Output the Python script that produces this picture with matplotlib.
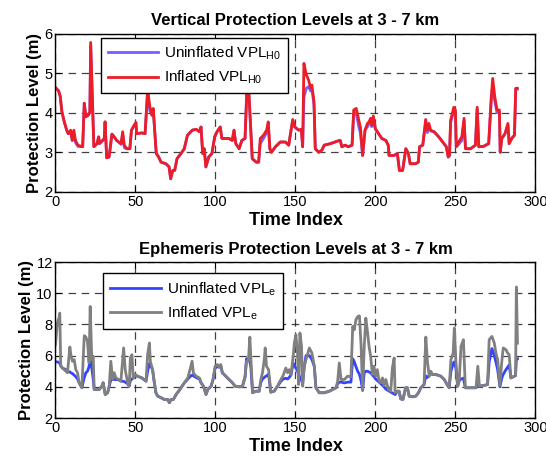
import matplotlib
matplotlib.use("Agg")
import matplotlib.pyplot as plt

plt.rcParams['font.family'] = ['Liberation Sans', 'DejaVu Sans']
plt.rcParams['mathtext.fontset'] = 'custom'
plt.rcParams['mathtext.rm'] = 'Liberation Sans'
plt.rcParams['mathtext.it'] = 'Liberation Sans'

# ---------------- Top panel data ----------------
top_x = [0, 2, 3, 4, 5.5, 7, 8, 9.5, 10.5, 11.5, 12.5, 14, 17, 18, 19, 20.5, 21.5, 22, 23, 24,
         26, 27, 27.5, 29.5, 30.5, 31, 32, 33.5, 35.3, 36.7, 38.2, 41, 42, 43, 44.5, 46.5, 47.5, 49.3, 50.3, 50.7,
         54, 56, 57.6, 59, 60.3, 61.1, 63, 64.5, 66, 69, 71, 72, 73.3, 74.5, 76, 78.5, 80.5, 82.5, 85.5, 88,
         90, 91, 92, 93, 94, 95.8, 97.8, 99.5, 101, 103, 104, 108.5, 110.5, 111.6, 112.7, 114.8, 116.5, 118.5, 119.8, 121,
         123, 125.5, 127, 128, 130, 132, 133, 134, 135, 137.5, 140.5, 143.7, 145.8, 146.9, 148.3, 149.6, 152, 153.7, 154.5, 155.3,
         156.8, 158.2, 159.5, 160.3, 161.6, 162.4, 164.5, 166.5, 168, 172, 176, 178, 179, 181, 183, 185.4, 186.4, 188, 189.6, 190.6,
         192, 193.5, 195, 196, 197, 197.7, 198.7, 200, 202, 204, 206.5, 208, 208.5, 211.6, 213.7, 215, 217, 219, 220.6, 221.7,
         225, 226.8, 227.6, 229.6, 231.4, 232.4, 233.4, 234.5, 236.6, 239.6, 242.8, 244.3, 245.5, 246.3, 247, 249, 250, 250.5, 252, 254,
         255.4, 256.3, 259.5, 262.5, 263.6, 264.6, 267.6, 270.8, 272.5, 273.3, 274.6, 276, 277.5, 278, 279, 281, 282.8, 283.6, 285.2, 286.9,
         287.7, 288.7]
top_inflated = [4.64, 4.55, 4.41, 4.03, 3.77, 3.56, 3.47, 3.56, 3.30, 3.56, 3.30, 3.18, 3.14, 4.24, 3.90, 3.94, 4.03, 5.78, 4.49, 3.14,
                3.22, 3.39, 3.22, 3.30, 3.35, 3.77, 2.86, 2.88, 3.46, 3.39, 3.30, 3.22, 3.52, 3.18, 3.09, 3.09, 3.56, 3.69, 3.75, 3.47,
                3.49, 3.47, 4.60, 4.15, 3.94, 4.11, 2.97, 2.88, 2.75, 2.71, 2.63, 2.33, 2.54, 2.54, 2.84, 2.97, 3.09, 3.43, 3.56, 3.58,
                3.52, 3.64, 2.97, 3.09, 2.63, 2.88, 2.97, 3.39, 3.52, 3.64, 3.35, 3.35, 3.30, 3.56, 3.22, 3.09, 3.30, 3.35, 4.80, 4.45,
                2.84, 2.75, 2.75, 3.35, 3.43, 3.56, 3.77, 3.09, 3.00, 3.14, 3.26, 3.26, 3.18, 3.47, 3.83, 3.64, 3.56, 3.58, 3.14, 5.25,
                4.96, 4.83, 4.62, 4.70, 4.28, 3.09, 3.00, 3.05, 3.18, 3.22, 3.28, 3.30, 3.14, 3.18, 3.14, 3.18, 4.07, 4.11, 3.81, 3.64,
                2.92, 3.56, 3.73, 3.77, 3.86, 3.69, 3.92, 3.60, 3.47, 3.35, 3.30, 3.18, 2.92, 2.92, 2.97, 2.54, 2.54, 3.09, 2.97, 2.71,
                2.71, 2.75, 3.14, 3.18, 3.83, 3.56, 3.73, 3.56, 3.52, 3.39, 3.22, 3.14, 2.88, 2.92, 3.81, 4.14, 4.07, 3.14, 3.26, 3.39,
                3.86, 3.09, 3.09, 3.18, 4.14, 3.14, 3.15, 3.22, 4.45, 4.87, 4.41, 4.07, 4.07, 3.00, 3.35, 3.47, 3.73, 3.22, 3.35, 3.43,
                4.62, 4.62]
top_uninflated = [4.64, 4.55, 4.41, 4.03, 3.77, 3.56, 3.47, 3.50, 3.30, 3.45, 3.25, 3.15, 3.14, 4.24, 3.90, 3.94, 4.00, 5.70, 4.40, 3.14,
                  3.22, 3.39, 3.22, 3.30, 3.35, 3.77, 2.86, 2.88, 3.46, 3.39, 3.30, 3.20, 3.45, 3.12, 3.09, 3.09, 3.56, 3.69, 3.75, 3.47,
                  3.49, 3.47, 4.50, 4.05, 3.94, 4.08, 2.97, 2.88, 2.75, 2.71, 2.63, 2.33, 2.54, 2.54, 2.84, 2.97, 3.09, 3.43, 3.56, 3.58,
                  3.52, 3.64, 2.97, 3.09, 2.63, 2.88, 2.97, 3.39, 3.52, 3.64, 3.35, 3.35, 3.30, 3.56, 3.22, 3.09, 3.30, 3.35, 4.70, 4.40,
                  2.84, 2.75, 2.75, 3.22, 3.35, 3.50, 3.72, 3.09, 3.00, 3.14, 3.26, 3.26, 3.18, 3.47, 3.80, 3.64, 3.56, 3.58, 3.14, 4.40,
                  4.62, 4.66, 4.55, 4.60, 4.20, 3.09, 3.00, 3.05, 3.18, 3.22, 3.28, 3.30, 3.14, 3.18, 3.14, 3.18, 3.95, 4.00, 3.65, 3.50,
                  2.92, 3.56, 3.65, 3.72, 3.75, 3.65, 3.80, 3.58, 3.47, 3.35, 3.30, 3.18, 2.92, 2.92, 2.97, 2.54, 2.54, 3.09, 2.97, 2.71,
                  2.71, 2.75, 3.14, 3.18, 3.75, 3.50, 3.60, 3.54, 3.52, 3.39, 3.22, 3.14, 2.88, 2.92, 3.75, 4.05, 4.00, 3.14, 3.20, 3.30,
                  3.80, 3.09, 3.09, 3.18, 4.10, 3.14, 3.15, 3.22, 4.40, 4.55, 4.30, 4.00, 4.00, 3.00, 3.35, 3.47, 3.70, 3.22, 3.35, 3.43,
                  4.60, 4.60]

# ---------------- Bottom panel data ----------------
bot_x = [0, 1.2, 2.3, 2.7, 3.3, 4.4, 6.5, 7.5, 9, 9.6, 10.6, 11.7, 12.7, 13.8, 14.8, 16.5, 18, 19, 20, 21,
         21.7, 22.7, 23.6, 24.2, 26.3, 27.3, 29, 29.8, 31.1, 32.6, 33.6, 34.6, 35.7, 36.7, 37.8, 39.4, 40.9, 42, 42.6, 43.6,
         45.1, 46.1, 46.8, 47.8, 48.6, 49.9, 51.3, 54, 56.6, 57.6, 58.7, 59.3, 60.7, 61.8, 62.8, 63.9, 66, 68, 70.1, 71.2,
         72.2, 73.7, 75.4, 77, 78.5, 80.6, 82.7, 84.1, 85.4, 86.2, 87.9, 90, 91, 92.5, 94.1, 95.2, 97.3, 98.5, 99.8, 101.2,
         102.3, 103.3, 104.3, 106.4, 108.5, 110.6, 112.3, 114.8, 116.9, 118.5, 119.4, 120.6, 121.5, 122.1, 123.2, 125.2, 127.3, 128.4, 129.4, 130.5,
         131.1, 131.9, 133.2, 134.6, 136.7, 138.8, 140.9, 142.3, 144, 145.1, 146.1, 147.2, 148.6, 149.3, 150.3, 151.3, 152, 152.8, 153.8, 154.5,
         155.5, 156.6, 158.7, 160.3, 161.8, 162.8, 164.9, 168, 171.2, 173.3, 175.4, 176.4, 177.4, 178.5, 180.6, 182.6, 184.7, 185.8, 186.8, 187.8,
         188.9, 190, 191, 192, 193, 194, 195, 196, 197, 198.1, 199.1, 200.1, 201.2, 202.3, 203.3, 204.4, 205.4, 206.5, 208.1, 209.6,
         210.6, 211.7, 212.3, 213.7, 214.8, 215.8, 217.2, 218.9, 220, 221.1, 223.1, 225.2, 226.9, 228.4, 230.4, 231.5, 232.5, 233.6, 234.6, 235.7,
         237.8, 240.9, 243, 245.1, 246.1, 247.2, 248.6, 249.3, 250.3, 251.4, 252.4, 253.5, 255, 256.2, 257.7, 260.8, 262.9, 264, 265, 268.1,
         270.1, 271.1, 272.8, 274.3, 275.3, 276.4, 277.8, 279.1, 279.9, 281.6, 282.6, 283.6, 284.7, 286.8, 287.6, 288.1, 288.8]
bot_inflated = [6.70, 8.10, 8.47, 8.72, 5.32, 5.20, 5.00, 4.90, 6.55, 6.06, 5.64, 5.74, 5.10, 4.90, 4.26, 3.94, 7.28, 7.19, 6.91, 5.53,
                9.15, 5.74, 5.96, 3.83, 3.83, 3.83, 4.04, 4.26, 3.51, 3.62, 4.04, 5.64, 4.47, 4.90, 4.57, 4.47, 4.36, 5.74, 6.49, 5.10,
                4.26, 4.04, 5.85, 6.06, 4.57, 4.79, 4.68, 4.57, 4.36, 6.06, 6.81, 5.64, 5.10, 4.26, 3.62, 3.40, 3.30, 3.19, 3.19, 2.98,
                3.19, 3.19, 3.51, 3.72, 3.94, 4.26, 4.57, 5.10, 5.64, 4.90, 4.68, 4.57, 4.26, 4.04, 3.51, 3.83, 4.04, 4.47, 5.32, 5.43,
                5.28, 5.43, 4.90, 4.68, 4.47, 4.26, 4.04, 4.00, 4.04, 4.68, 5.64, 5.70, 7.19, 5.96, 3.62, 3.72, 3.72, 4.47, 4.90, 5.74,
                6.49, 5.32, 5.10, 3.66, 3.72, 4.04, 4.47, 4.72, 5.21, 4.90, 5.10, 4.79, 5.96, 6.81, 7.34, 6.17, 4.15, 7.45, 6.60, 4.04,
                5.32, 5.74, 6.49, 6.17, 5.32, 3.94, 3.62, 3.62, 3.72, 3.83, 3.94, 4.36, 5.53, 4.47, 4.47, 4.68, 4.64, 7.87, 7.66, 8.30,
                8.50, 8.55, 6.70, 3.75, 6.60, 8.40, 7.55, 6.60, 5.96, 4.79, 5.32, 4.68, 5.10, 4.36, 4.26, 4.57, 4.09, 4.47, 3.83, 3.72,
                5.21, 5.85, 3.62, 3.72, 3.72, 3.23, 3.19, 3.94, 3.94, 3.40, 3.36, 3.40, 3.62, 3.94, 4.15, 7.19, 5.64, 4.68, 5.00, 4.79,
                4.79, 4.68, 4.47, 4.09, 3.94, 5.74, 6.17, 7.77, 5.64, 4.04, 4.47, 6.60, 7.02, 3.94, 3.94, 3.94, 3.94, 5.32, 4.04, 4.09,
                4.15, 7.02, 7.23, 6.81, 6.17, 5.74, 4.09, 5.74, 6.49, 6.38, 6.17, 6.06, 4.57, 4.68, 4.72, 10.40, 6.80]
bot_uninflated = [5.60, 5.60, 5.55, 5.50, 5.35, 5.20, 5.10, 5.00, 4.95, 4.90, 4.85, 4.75, 4.65, 4.50, 4.26, 3.94, 4.60, 4.90, 5.00, 5.30,
                  6.20, 5.20, 4.50, 3.83, 3.83, 3.83, 4.04, 4.26, 3.51, 3.62, 4.04, 4.45, 4.47, 4.47, 4.47, 4.45, 4.36, 4.35, 4.35, 4.30,
                  4.20, 4.04, 4.40, 4.50, 4.57, 4.70, 4.68, 4.57, 4.36, 5.00, 5.50, 5.40, 5.10, 4.26, 3.62, 3.40, 3.30, 3.19, 3.19, 2.98,
                  3.19, 3.19, 3.51, 3.72, 3.94, 4.26, 4.50, 4.65, 4.75, 4.70, 4.60, 4.50, 4.26, 4.04, 3.51, 3.83, 4.04, 4.47, 5.20, 5.30,
                  5.25, 5.35, 4.90, 4.68, 4.47, 4.26, 4.04, 4.00, 4.04, 4.60, 5.80, 5.80, 5.60, 5.30, 3.62, 3.72, 3.72, 4.30, 4.50, 4.60,
                  4.65, 4.70, 4.80, 3.66, 3.72, 4.04, 4.35, 4.50, 4.55, 4.50, 4.60, 4.75, 5.50, 5.40, 5.20, 5.00, 4.80, 4.60, 4.40, 4.20,
                  5.30, 6.00, 6.00, 5.75, 5.30, 3.94, 3.62, 3.62, 3.72, 3.83, 3.94, 4.20, 4.30, 4.30, 4.25, 4.30, 4.30, 5.80, 5.60, 5.30,
                  5.00, 4.80, 4.40, 3.80, 4.90, 5.00, 5.00, 4.95, 4.90, 4.75, 4.65, 4.50, 4.40, 4.30, 4.20, 4.10, 4.00, 3.85, 3.75, 3.65,
                  3.60, 3.55, 3.50, 3.72, 3.72, 3.23, 3.19, 3.94, 3.94, 3.40, 3.36, 3.40, 3.62, 3.94, 4.15, 4.70, 4.60, 4.70, 4.85, 4.79,
                  4.79, 4.68, 4.47, 4.09, 3.94, 5.00, 5.50, 5.60, 5.20, 4.04, 4.40, 4.50, 4.55, 3.94, 3.94, 3.94, 3.94, 4.30, 4.04, 4.09,
                  4.15, 5.60, 6.45, 6.00, 5.60, 5.10, 4.00, 4.60, 4.80, 5.10, 5.25, 5.40, 4.57, 4.68, 4.72, 5.80, 5.80]

top_yticks = [2, 3, 4, 5, 6]
bot_yticks = [2, 4, 6, 8, 10, 12]
x_ticks = [0, 50, 100, 150, 200, 250, 300]

fig = plt.figure(figsize=(5.46, 4.62), dpi=100)
ax1 = fig.add_axes([0.1016, 0.5849, 0.879, 0.342])
ax2 = fig.add_axes([0.1016, 0.0952, 0.879, 0.3377])

def style(ax, yticks, ylim):
    ax.set_xlim(0, 300)
    ax.set_ylim(*ylim)
    ax.set_xticks(x_ticks)
    ax.set_yticks(yticks)
    ax.tick_params(direction='in', top=True, right=True, labelsize=10.5, length=4, width=0.8, pad=2)
    ax.grid(True, color='#202020', linestyle=(0, (6, 4.5)), linewidth=0.9, alpha=0.85)
    for s in ax.spines.values():
        s.set_linewidth(1.0)
        s.set_color('black')
    ax.set_xlabel('Time Index', fontsize=13, fontweight='bold', labelpad=2.5)
    ax.set_ylabel('Protection Level (m)', fontsize=12, fontweight='bold', labelpad=2)

purple = '#7a5cff'
red = '#ee1c24'
blue = '#3344ff'
gray = '#808080'

legkw = dict(loc='upper left', fontsize=11, fancybox=False, framealpha=1, edgecolor='black',
             handlelength=3.3, borderpad=0.45, labelspacing=0.45, handletextpad=0.4, borderaxespad=0)

ax1.plot(top_x, top_uninflated, color=purple, lw=2.0, label=r'Uninflated VPL$_{\mathrm{H0}}$')
ax1.plot(top_x, top_inflated, color=red, lw=2.0, label=r'Inflated VPL$_{\mathrm{H0}}$')
style(ax1, top_yticks, (2, 6))
ax1.set_title('Vertical Protection Levels at 3 - 7 km', fontsize=12, fontweight='bold', pad=6)
leg1 = ax1.legend(bbox_to_anchor=(0.095, 0.975), **legkw)
leg1.get_frame().set_linewidth(1.0)

ax2.plot(bot_x, bot_uninflated, color=blue, lw=2.0, label=r'Uninflated VPL$_{\mathrm{e}}$')
ax2.plot(bot_x, bot_inflated, color=gray, lw=2.0, label=r'Inflated VPL$_{\mathrm{e}}$')
style(ax2, bot_yticks, (2, 12))
ax2.set_title('Ephemeris Protection Levels at 3 - 7 km', fontsize=12, fontweight='bold', pad=6)
leg2 = ax2.legend(bbox_to_anchor=(0.0996, 0.928), **legkw)
leg2.get_frame().set_linewidth(1.0)

fig.savefig('out.png', dpi=100)
